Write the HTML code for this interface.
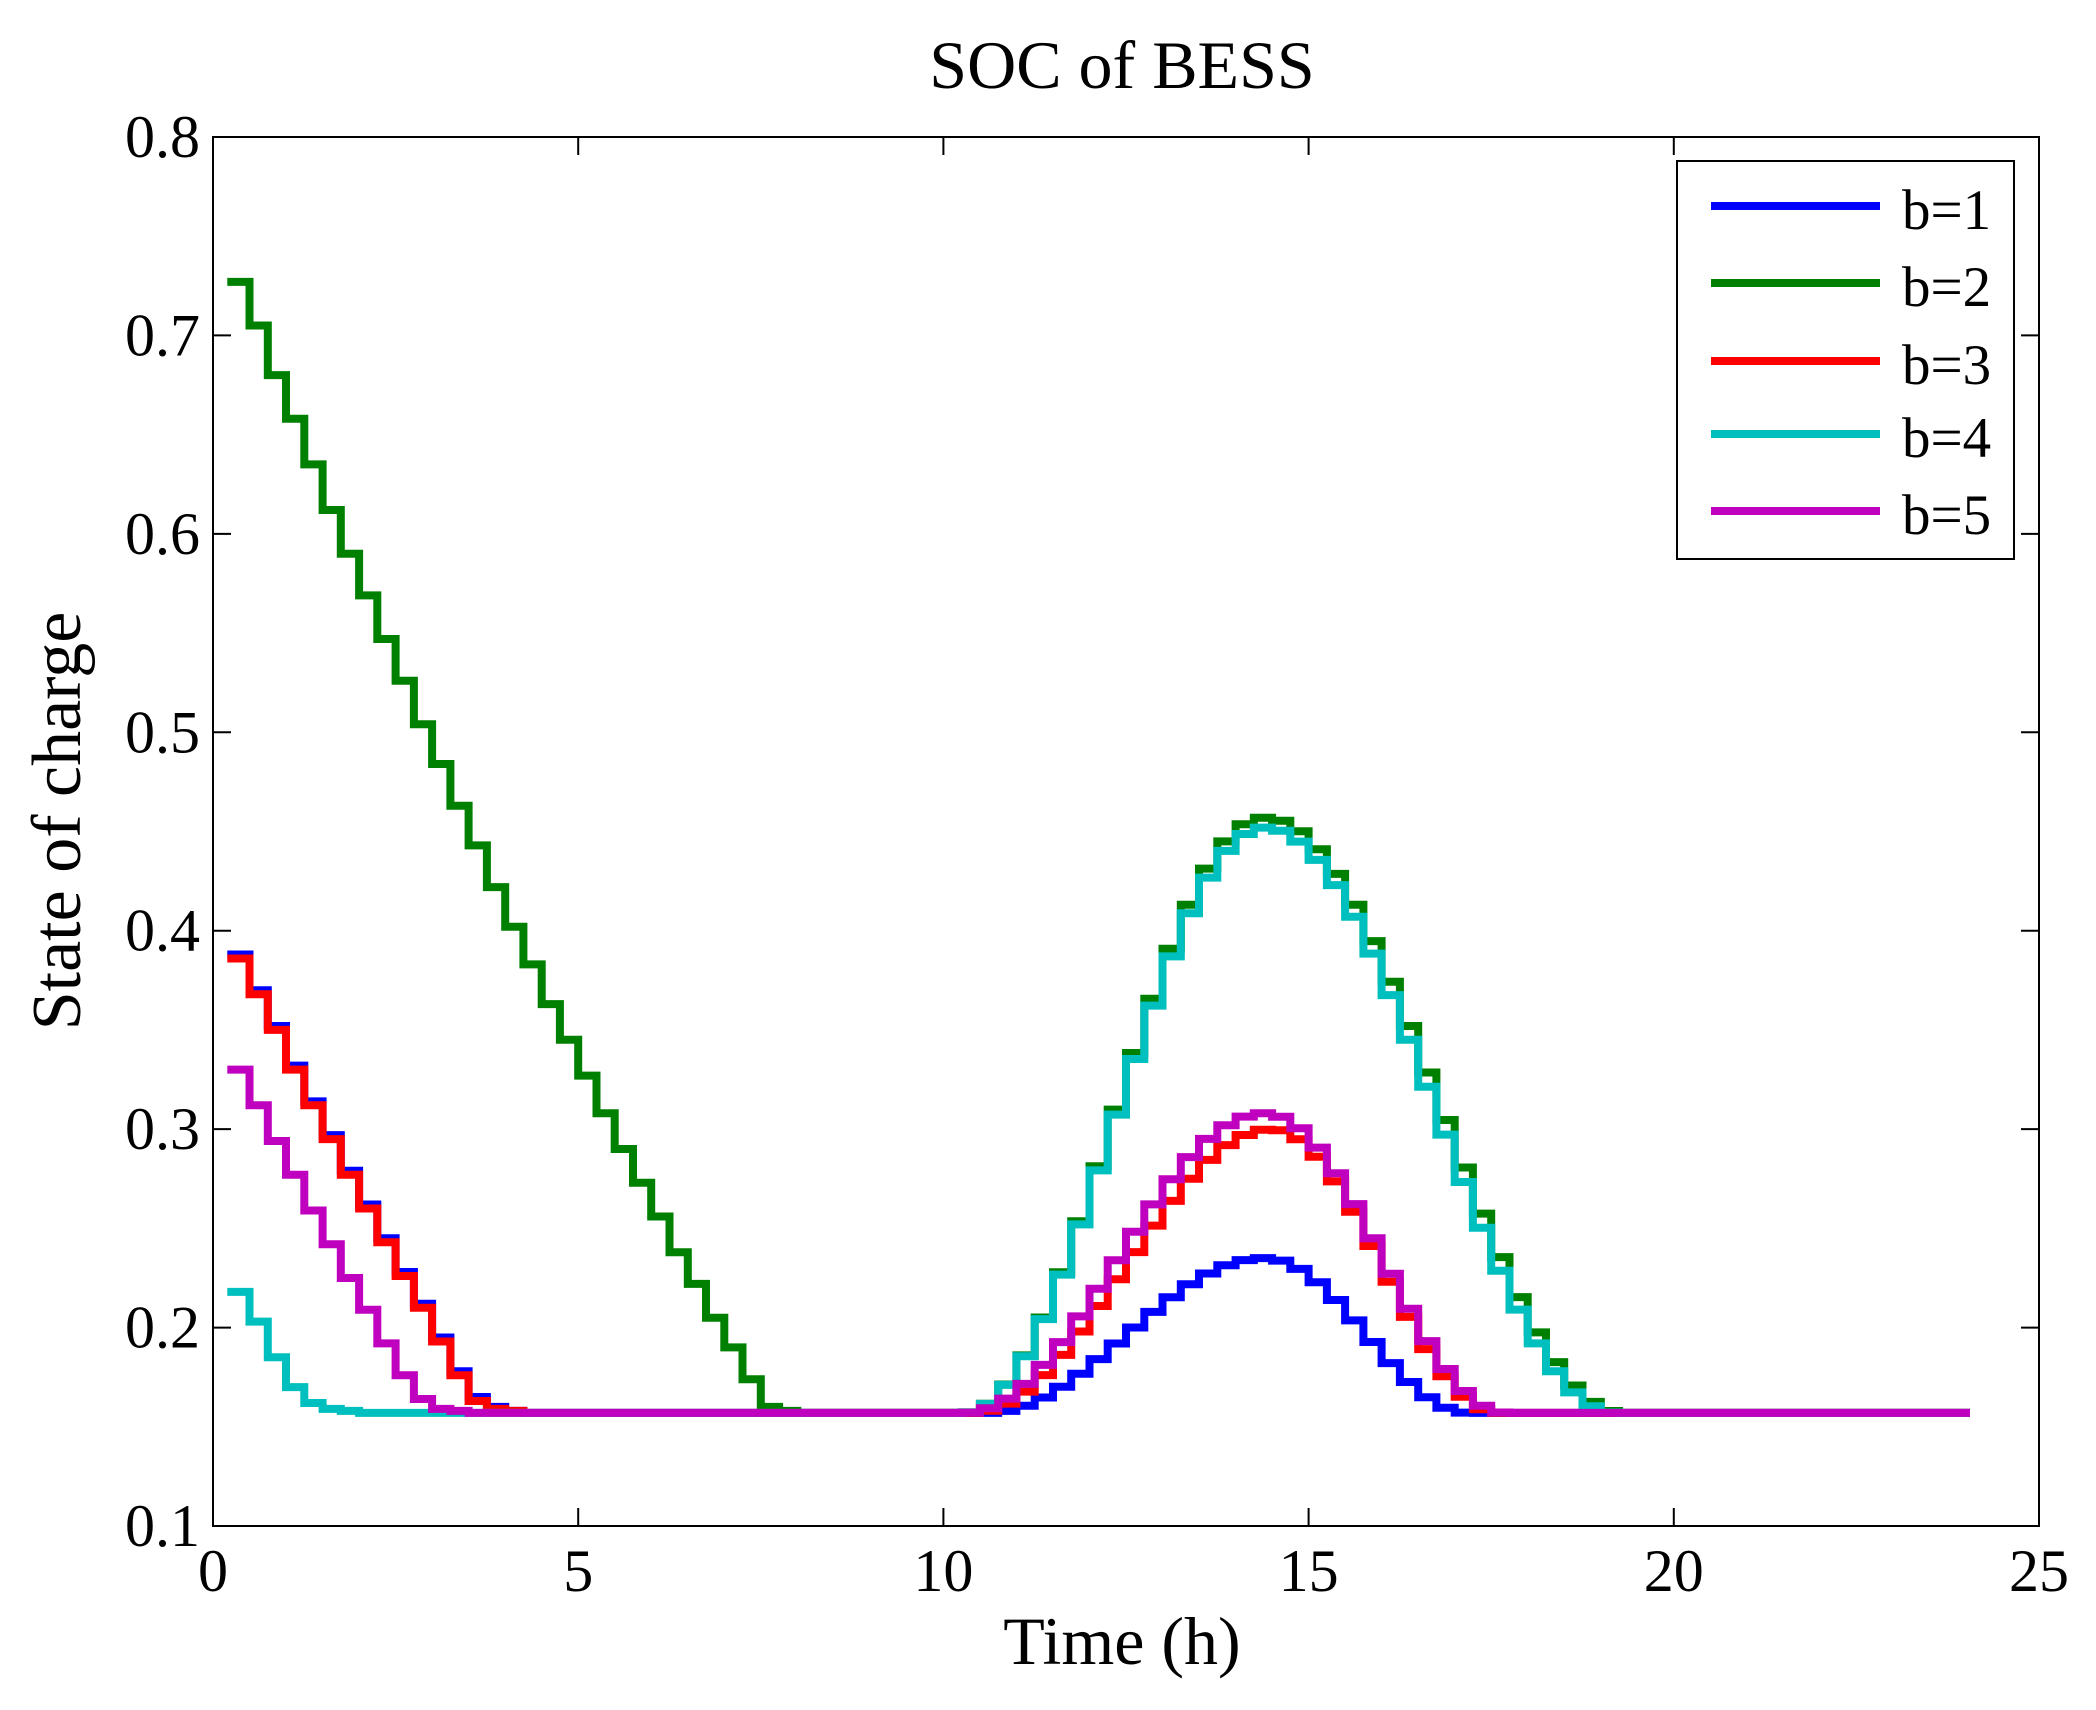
<!DOCTYPE html>
<html><head><meta charset="utf-8"><style>
html,body{margin:0;padding:0;background:#fff;}
svg{display:block;font-family:"Liberation Serif",serif;}
</style></head><body>
<svg id="c" width="2096" height="1710" viewBox="0 0 2096 1710" xmlns="http://www.w3.org/2000/svg">
<rect width="2096" height="1710" fill="#fff"/>
<text x="1122" y="88" font-size="68" text-anchor="middle">SOC of BESS</text>
<text x="1122" y="1664" font-size="68" text-anchor="middle">Time (h)</text>
<text transform="translate(80,821) rotate(-90)" font-size="70" text-anchor="middle">State of charge</text>
<g id="ticks" stroke="#000" stroke-width="2" fill="none"></g>
<g id="tl" font-size="60"></g>
<g id="series" fill="none" stroke-width="8" stroke-linejoin="miter" stroke-linecap="square"></g>
<rect x="213" y="137" width="1826" height="1389" fill="none" stroke="#000" stroke-width="2"/>
<rect x="1677" y="161" width="337" height="398" fill="#fff" stroke="#000" stroke-width="2"/>
<g stroke-width="8">
<line x1="1711" y1="206" x2="1880" y2="206" stroke="#0000ff"/>
<line x1="1711" y1="283" x2="1880" y2="283" stroke="#008000"/>
<line x1="1711" y1="361" x2="1880" y2="361" stroke="#ff0000"/>
<line x1="1711" y1="434" x2="1880" y2="434" stroke="#00bfbf"/>
<line x1="1711" y1="511" x2="1880" y2="511" stroke="#bf00bf"/>
</g>
<g font-size="57">
<text x="1902" y="229">b=1</text>
<text x="1902" y="306">b=2</text>
<text x="1902" y="384">b=3</text>
<text x="1902" y="457">b=4</text>
<text x="1902" y="534">b=5</text>
</g>
</svg>
<script>
var L=213,R=2039,T=137,B=1526;
function X(t){return L+(R-L)*t/25;}
function Y(v){return B-(B-T)*(v-0.1)/0.7;}
var NS="http://www.w3.org/2000/svg";
function el(p,n,a,txt){var e=document.createElementNS(NS,n);for(var k in a)e.setAttribute(k,a[k]);if(txt!==undefined)e.textContent=txt;document.getElementById(p).appendChild(e);}
for(var i=0;i<=5;i++){var x=X(i*5);
 el("ticks","line",{x1:x,y1:B,x2:x,y2:B-18});el("ticks","line",{x1:x,y1:T,x2:x,y2:T+18});
 el("tl","text",{x:x,y:1591,"text-anchor":"middle"},String(i*5));}
for(var j=1;j<=8;j++){var v=j/10,y=Y(v);
 el("ticks","line",{x1:L,y1:y,x2:L+18,y2:y});el("ticks","line",{x1:R,y1:y,x2:R-18,y2:y});
 el("tl","text",{x:200,y:y+20,"text-anchor":"end"},v.toFixed(1));}
var F=0.157;
function bell(t,a,p,b,A){if(t<=a||t>=b)return F;var s=t<p?0.5*(1-Math.cos(Math.PI*(t-a)/(p-a))):0.5*(1+Math.cos(Math.PI*(t-p)/(b-p)));return F+A*s;}
function mk(early,a,p,b,A){var v=[];for(var k=1;k<=95;k++){var t=0.25*k,tm=t+0.125,val;
 if(k-1<early.length)val=early[k-1];else val=bell(tm,a,p,b,A);v.push([t,val]);}return v;}
var green=[0.727,0.705,0.68,0.658,0.635,0.612,0.59,0.569,0.547,0.526,0.504,0.484,0.463,0.443,0.422,0.402,0.383,0.363,0.345,0.327,0.308,0.29,0.273,0.256,0.238,0.222,0.205,0.19,0.174,0.16,0.158];
var red=[0.386,0.368,0.35,0.33,0.312,0.295,0.277,0.26,0.243,0.226,0.21,0.193,0.176,0.163,0.159,0.158];
var blue=[0.388,0.37,0.352,0.332,0.314,0.297,0.279,0.262,0.245,0.228,0.212,0.195,0.178,0.165,0.16,0.158];
var mag=[0.33,0.312,0.294,0.277,0.259,0.242,0.225,0.209,0.192,0.176,0.164,0.159,0.158];
var cyan=[0.218,0.203,0.185,0.17,0.162,0.159,0.158,0.157];
var S=[["#0000ff",mk(blue,10.6,14.4,17.2,0.078)],["#008000",mk(green,10.3,14.4,19.3,0.300)],
["#ff0000",mk(red,10.4,14.5,17.6,0.143)],["#00bfbf",mk(cyan,10.3,14.4,19.2,0.295)],["#bf00bf",mk(mag,10.3,14.4,17.7,0.151)]];
S.forEach(function(s){var d="",pts=s[1];for(var i=0;i<pts.length;i++){var t=pts[i][0],y=Y(pts[i][1]);
 d+=(i==0?"M":"L")+X(t).toFixed(1)+" "+y.toFixed(1)+" L"+X(t+0.25).toFixed(1)+" "+y.toFixed(1)+" ";}
 el("series","path",{d:d,stroke:s[0]});});
</script>
</body></html>
